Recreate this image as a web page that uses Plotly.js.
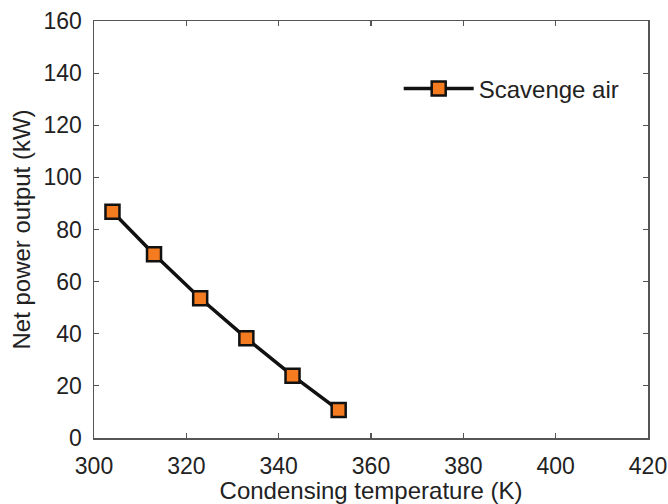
<!DOCTYPE html>
<html>
<head>
<meta charset="utf-8">
<script src="https://cdn.plot.ly/plotly-3.0.1.min.js"></script>
<style>html,body{margin:0;padding:0;background:#fff;}#chart{width:668px;height:504px;}</style>
</head>
<body>
<div id="chart"></div>
<script>
const seriesName = "Scavenge air";
const condensingTemp = [304, 313, 323, 333, 343, 353];
const netPower = [86.8, 70.5, 53.6, 38.3, 23.9, 10.7];
const xTicks = [300, 320, 340, 360, 380, 400, 420];
const yTicks = [0, 20, 40, 60, 80, 100, 120, 140, 160];

const FONT = "Liberation Sans, Arial, sans-serif";
const trace = {
  x: condensingTemp,
  y: netPower,
  name: seriesName,
  type: "scatter",
  mode: "lines+markers",
  line: {color: "#111", width: 3.5},
  marker: {symbol: "square", size: 14, color: "#F47B20", line: {color: "#111", width: 2.5}},
  showlegend: true
};

const axisCommon = {
  showline: true, mirror: "ticks", linecolor: "#555", linewidth: 1.5,
  ticks: "inside", ticklen: 5, tickwidth: 1.2, tickcolor: "#555",
  showgrid: false, zeroline: false,
  tickfont: {family: FONT, size: 23, color: "#222"}
};

const layout = {
  width: 668, height: 504,
  margin: {l: 94, r: 20, t: 21, b: 66},
  paper_bgcolor: "#fff", plot_bgcolor: "#fff",
  font: {family: FONT, color: "#222"},
  xaxis: Object.assign({}, axisCommon, {
    range: [300, 420], tickvals: xTicks, ticktext: xTicks.map(String),
    ticklabelstandoff: 7,
    title: {text: "Condensing temperature (K)", font: {size: 24, color: "#222"}, standoff: 4}
  }),
  yaxis: Object.assign({}, axisCommon, {
    range: [0, 160], tickvals: yTicks, ticktext: yTicks.map(String),
    ticklabelstandoff: 6,
    title: {text: "Net power output (kW)", font: {size: 24, color: "#222"}, standoff: 6}
  }),
  legend: {
    x: 0.55, y: 0.837, xanchor: "left", yanchor: "middle",
    bgcolor: "rgba(0,0,0,0)", borderwidth: 0,
    font: {family: FONT, size: 24, color: "#222"}, itemwidth: 70
  }
};

Plotly.newPlot("chart", [trace], layout, {displayModeBar: false, staticPlot: true});
</script>
</body>
</html>
